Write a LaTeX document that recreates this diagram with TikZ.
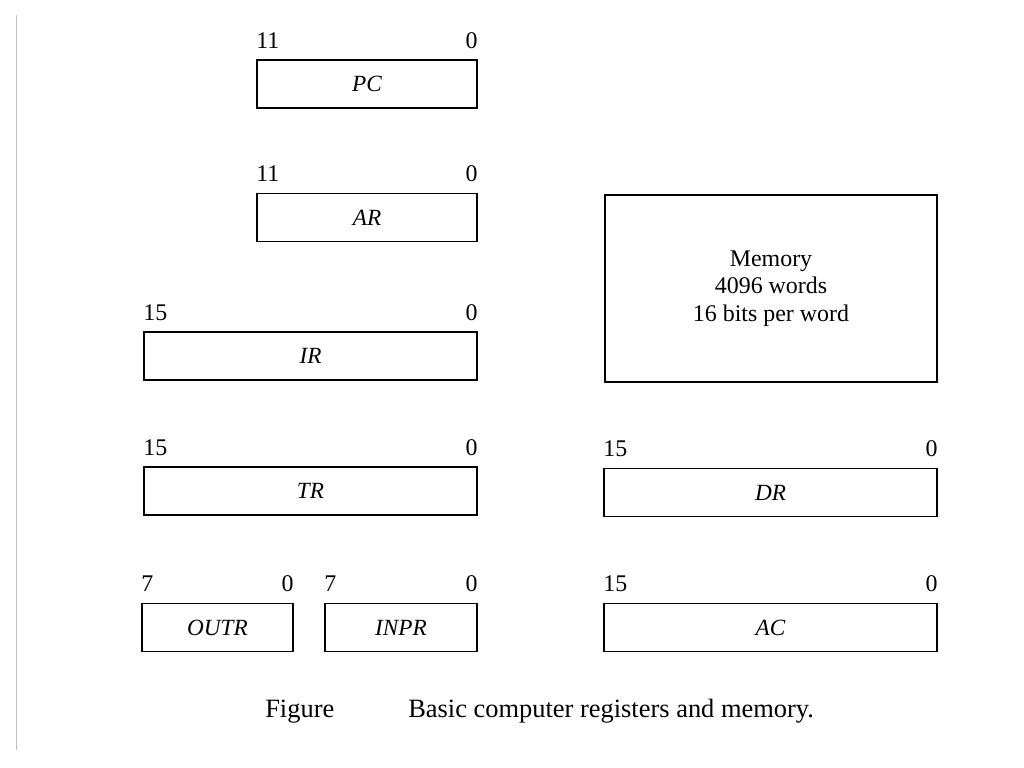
\documentclass[tikz,border=0pt]{standalone}
\usepackage{fontspec}
\setmainfont{Liberation Serif}
\usetikzlibrary{positioning}

\begin{document}
\begin{tikzpicture}[x=0.025cm,y=-0.025cm,
      reg/.style={draw,line width=1.3pt,inner sep=0pt,minimum height=1.2cm,font=\fontsize{16.5}{19}\selectfont\itshape},
      bitno/.style={inner sep=0pt,font=\fontsize{17}{20}\selectfont},
      figtext/.style={inner sep=0pt,font=\fontsize{18.8}{22}\selectfont}
    ]
      \useasboundingbox[fill=white] (0,0) rectangle (1024,768);
      \draw[black!25] (16,15) -- (16,750);
      % left column
      \node[reg,minimum width=5.5cm] (pc) at (367,84) {PC};
      \node[reg,minimum width=5.5cm] (ar) at (367,217.5) {AR};
      \node[reg,minimum width=8.325cm] (ir) at (310.5,356) {IR};
      \node[reg,minimum width=8.325cm] (tr) at (310.5,491) {TR};
      \node[reg,minimum width=3.775cm] (outr) at (217.5,627.5) {OUTR};
      \node[reg,minimum width=3.8cm] (inpr) at (401,627.5) {INPR};
      % right column
      \node[reg,font=\fontsize{17}{19.6}\selectfont,align=center,minimum width=8.3cm,minimum height=4.675cm] (mem) at (771,288.5) {Memory\\4096 words\\16 bits per word};
      \node[reg,minimum width=8.325cm] (dr) at (770.5,492.5) {DR};
      \node[reg,minimum width=8.325cm] (ac) at (770.5,627.5) {AC};
      % bit numbers
      \node[bitno,anchor=base west] (pc-hi) at ([yshift=0.275cm]pc.north west) {11};
      \node[bitno,anchor=base east] (pc-lo) at ([yshift=0.275cm]pc.north east) {0};
      \node[bitno,anchor=base west] (ar-hi) at ([yshift=0.275cm]ar.north west) {11};
      \node[bitno,anchor=base east] (ar-lo) at ([yshift=0.275cm]ar.north east) {0};
      \node[bitno,anchor=base west] (ir-hi) at ([yshift=0.275cm]ir.north west) {15};
      \node[bitno,anchor=base east] (ir-lo) at ([yshift=0.275cm]ir.north east) {0};
      \node[bitno,anchor=base west] (tr-hi) at ([yshift=0.275cm]tr.north west) {15};
      \node[bitno,anchor=base east] (tr-lo) at ([yshift=0.275cm]tr.north east) {0};
      \node[bitno,anchor=base west] (outr-hi) at ([yshift=0.275cm]outr.north west) {7};
      \node[bitno,anchor=base east] (outr-lo) at ([yshift=0.275cm]outr.north east) {0};
      \node[bitno,anchor=base west] (inpr-hi) at ([yshift=0.275cm]inpr.north west) {7};
      \node[bitno,anchor=base east] (inpr-lo) at ([yshift=0.275cm]inpr.north east) {0};
      \node[bitno,anchor=base west] (dr-hi) at ([yshift=0.275cm]dr.north west) {15};
      \node[bitno,anchor=base east] (dr-lo) at ([yshift=0.275cm]dr.north east) {0};
      \node[bitno,anchor=base west] (ac-hi) at ([yshift=0.275cm]ac.north west) {15};
      \node[bitno,anchor=base east] (ac-lo) at ([yshift=0.275cm]ac.north east) {0};
      % caption
      \node[figtext,anchor=base west] (figlbl) at (265,717) {Figure};
      \node[figtext,anchor=base west] (figcap) at (408,717) {Basic computer registers and memory.};
    \end{tikzpicture}
\end{document}
